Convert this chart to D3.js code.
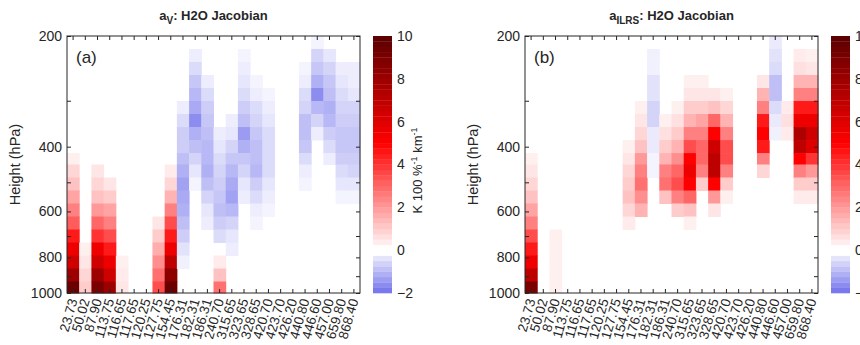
<!DOCTYPE html>
<html>
<head>
<meta charset="utf-8">
<script src="https://cdnjs.cloudflare.com/ajax/libs/d3/7.8.5/d3.min.js"></script>
<style>
  body { margin: 0; background: #fff; }
  svg text { font-family: "Liberation Sans", Arial, Helvetica, sans-serif; fill: #262626; }
</style>
</head>
<body>
<div id="chart"></div>
<script>
// channel frequencies (GHz) used as x categories
const channels = ["23.73","50.02","87.90","113.75","116.65","117.65","120.25","127.75",
  "154.45","176.31","182.31","186.31","240.70","315.65","323.65","328.65",
  "420.70","423.70","426.20","440.80","446.60","457.00","659.80","868.40"];

// pressure level edges (hPa), top to bottom
const pEdges = [200, 216.9, 235.4, 255.3, 277.0, 300.5, 326.0, 353.7, 383.7, 416.3,
  447.2, 485.1, 526.3, 570.9, 619.4, 671.9, 728.9, 790.8, 857.9, 930.7, 1000];

const yTicks = [200, 400, 600, 800, 1000];
const cbarTicks = [-2, 0, 2, 4, 6, 8, 10];

// Jacobian values per channel, one value per layer (top -> bottom)
const aV = [
  [0,0,0,0,0,0,0,0,0,0.3,0.8,1.2,1.8,2.5,3.2,4.5,5.5,6.5,8,9.5],
  [0,0,0,0,0,0,0,0,0,0,0,0,0,0,0,0,0.3,0.5,0.8,1.0],
  [0,0,0,0,0,0,0,0,0,0,0.5,0.8,1.2,2,3,4,5.5,6.5,8,9],
  [0,0,0,0,0,0,0,0,0,0,0,0.5,1,1.8,2.5,3.5,4.5,5.5,6.5,8],
  [0,0,0,0,0,0,0,0,0,0,0,0,0,0,0,0,0,0.3,0.4,0.5],
  [0,0,0,0,0,0,0,0,0,0,0,0,0,0,0,0,0,0,0,0],
  [0,0,0,0,0,0,0,0,0,0,0,0,0,0,0,0,0,0,0,0],
  [0,0,0,0,0,0,0,0,0,0,0,0,0,0,0.5,1,1.6,2.2,2.8,3.5],
  [0,0,0,0,0,0,0,0,0,0,0.4,0.8,1.5,2.5,3.5,4.5,5.5,7,8.5,9.5],
  [0,0,0,0,0,-0.25,-0.5,-0.7,-0.7,-0.9,-1.1,-1.3,-1.2,-1.1,-0.9,-0.7,-0.4,-0.2,0,0],
  [0,-0.25,-0.5,-0.8,-1.0,-1.2,-1.6,-1.1,-0.9,-0.6,-0.35,-0.15,0,0,0,0,0,0,0,0],
  [0,0,0,-0.25,-0.5,-0.7,-0.8,-0.9,-1.0,-1.0,-1.1,-0.9,-0.6,-0.35,-0.25,0,0,0,0,0],
  [0,0,0,0,0,0,0,-0.25,-0.35,-0.5,-0.6,-0.7,-0.8,-0.9,-0.7,-0.5,0,0.4,1.2,2.8],
  [0,0,0,0,0,0,-0.25,-0.35,-0.6,-0.8,-1.0,-1.2,-1.3,-1.0,-0.6,-0.35,-0.25,0,0,0],
  [0,-0.15,-0.25,-0.35,-0.5,-0.7,-0.9,-1.4,-1.1,-0.8,-0.6,-0.35,-0.25,0,0,0,0,0,0,0],
  [0,0,0,-0.15,-0.25,-0.5,-0.6,-0.8,-0.9,-0.9,-1.0,-0.7,-0.5,-0.25,-0.15,0,0,0,0,0],
  [0,0,0,0,-0.15,-0.25,-0.35,-0.5,-0.5,-0.5,-0.5,-0.35,-0.25,-0.15,0,0,0,0,0,0],
  [0,0,0,0,0,0,0,0,0,0,0,0,0,0,0,0,0,0,0,0],
  [0,0,0,0,0,0,0,0,0,0,0,0,0,0,0,0,0,0,0,0],
  [0,0,-0.15,-0.25,-0.5,-0.6,-0.9,-0.9,-0.8,-0.5,-0.25,-0.15,0,0,0,0,0,0,0,0],
  [-0.15,-0.6,-0.8,-1.1,-1.6,-1.0,-0.6,-0.25,0,0,0,0,0,0,0,0,0,0,0,0],
  [0,-0.35,-0.6,-0.8,-0.9,-1.1,-1.0,-0.7,-0.5,-0.25,0,0,0,0,0,0,0,0,0,0],
  [0,0,-0.25,-0.35,-0.5,-0.6,-0.7,-0.8,-0.8,-0.7,-0.5,-0.35,-0.15,0,0,0,0,0,0,0],
  [0,0,-0.25,-0.25,-0.35,-0.6,-0.7,-0.8,-0.8,-0.7,-0.6,-0.35,-0.15,0,0,0,0,0,0,0]
];

const aILRS = [
  [0,0,0,0,0,0,0,0,0,0.3,0.5,0.8,1.2,1.8,2.5,3.5,4.5,5.5,7,9],
  [0,0,0,0,0,0,0,0,0,0,0,0,0,0,0,0,0,0,0,0],
  [0,0,0,0,0,0,0,0,0,0,0,0,0,0,0,0.3,0.3,0.3,0.3,0.3],
  [0,0,0,0,0,0,0,0,0,0,0,0,0,0,0,0,0,0,0,0],
  [0,0,0,0,0,0,0,0,0,0,0,0,0,0,0,0,0,0,0,0],
  [0,0,0,0,0,0,0,0,0,0,0,0,0,0,0,0,0,0,0,0],
  [0,0,0,0,0,0,0,0,0,0,0,0,0,0,0,0,0,0,0,0],
  [0,0,0,0,0,0,0,0,0,0,0,0,0,0,0,0,0,0,0,0],
  [0,0,0,0,0,0,0,0,0.3,0.5,0.8,1.0,1.2,0.8,0.4,0,0,0,0,0],
  [0,0,0,0,0,0.3,0.5,0.8,1.2,2.0,2.5,2.8,2.2,1.5,0,0,0,0,0,0],
  [0,-0.2,-0.2,-0.4,-0.4,-0.6,-0.6,-0.3,-0.3,-0.15,-0.15,0,0,0,0,0,0,0,0,0],
  [0,0,0,0,0,0,0.3,0.6,1.0,1.5,2.5,2.8,1.2,0,0,0,0,0,0,0],
  [0,0,0,0,0,0.3,0.6,1.0,1.5,2.2,3.0,3.5,2.5,1.0,0,0,0,0,0,0],
  [0,0,0,0.3,0.5,1.0,1.5,2.5,3.5,5.0,5.5,5.0,3.0,1.2,0.3,0,0,0,0,0],
  [0,0,0,0.3,0.5,1.0,1.8,2.5,3.0,3.0,2.5,1.0,0,0,0,0,0,0,0,0],
  [0,0,0,0,0.5,1.2,3.0,5.0,6.5,7.0,7.0,5.0,2.0,0.5,0,0,0,0,0,0],
  [0,0,0,0,0.3,0.8,1.5,2.5,3.5,3.5,2.5,1.0,0.3,0,0,0,0,0,0,0],
  [0,0,0,0,0,0,0,0,0,0,0,0,0,0,0,0,0,0,0,0],
  [0,0,0,0,0,0,0,0,0,0,0,0,0,0,0,0,0,0,0,0],
  [0,0,0,0.5,1.5,2.5,4.5,5.0,4.5,2.5,0.8,0,0,0,0,0,0,0,0,0],
  [-0.3,-0.4,-0.5,-0.9,-0.9,-0.5,-0.3,-0.2,0,0,0,0,0,0,0,0,0,0,0,0],
  [0,0,0,0,0,0.4,0.6,0.4,0,0,0,0,0,0,0,0,0,0,0,0],
  [0,0.4,0.6,1.5,2.5,4.5,5.5,7.5,7.0,5.0,2.5,1.0,0.4,0,0,0,0,0,0,0],
  [0,0.3,0.5,1.5,2.5,4.5,5.5,6.5,6.0,4.0,2.0,1.0,0.4,0,0,0,0,0,0,0]
];

const width = 860, height = 345;
const yTop = 36, yBottom = 293, plotW = 293;

const svg = d3.select("#chart").append("svg")
  .attr("width", width)
  .attr("height", height);

const color = d3.scaleLinear()
  .domain([-2, 0, 5, 10])
  .range(["#7070ec", "#ffffff", "#ff0000", "#5a0000"])
  .clamp(true);

const y = d3.scaleLog().domain([200, 1000]).range([yTop, yBottom]);

function drawPanel(data, x0, titleMain, titleSub, letter) {
  const x = d3.scaleBand().domain(channels).range([x0, x0 + plotW]).padding(0);
  const g = svg.append("g");

  // cells
  channels.forEach((ch, i) => {
    g.selectAll(null)
      .data(data[i].map((v, r) => ({ v: v, r: r })).filter(d => d.v !== 0))
      .enter()
      .append("rect")
      .attr("x", x(ch))
      .attr("y", d => y(pEdges[d.r]))
      .attr("width", x.bandwidth() + 0.5)
      .attr("height", d => y(pEdges[d.r + 1]) - y(pEdges[d.r]) + 0.5)
      .attr("fill", d => color(d.v));
  });

  const minor = d3.range(200, 1001, 100);

  // left axis with labels
  const yAxis = d3.axisLeft(y).tickValues(minor).tickSize(-4).tickPadding(5)
    .tickFormat(d => yTicks.includes(d) ? d : "");
  g.append("g").attr("transform", "translate(" + x0 + ",0)").call(yAxis)
    .call(a => a.select(".domain").remove())
    .call(a => a.selectAll("text").attr("font-size", 14).attr("fill", "#262626"));

  // right axis ticks only
  g.append("g").attr("transform", "translate(" + (x0 + plotW) + ",0)")
    .call(d3.axisRight(y).tickValues(minor).tickSize(-4).tickFormat(""))
    .call(a => a.select(".domain").remove());

  // bottom axis with rotated labels
  g.append("g").attr("transform", "translate(0," + yBottom + ")")
    .call(d3.axisBottom(x).tickSize(-4))
    .call(a => a.select(".domain").remove())
    .call(a => a.selectAll("text")
      .attr("font-size", 13.5)
      .attr("fill", "#262626")
      .attr("text-anchor", "end")
      .attr("x", 0).attr("y", 0).attr("dy", "0.35em")
      .attr("transform", "translate(0,6) rotate(-74)"));

  // top axis ticks only
  g.append("g").attr("transform", "translate(0," + yTop + ")")
    .call(d3.axisTop(x).tickSize(-4).tickFormat(""))
    .call(a => a.select(".domain").remove());

  g.selectAll(".tick line").attr("stroke", "#262626");

  // box
  g.append("rect")
    .attr("x", x0).attr("y", yTop)
    .attr("width", plotW).attr("height", yBottom - yTop)
    .attr("fill", "none").attr("stroke", "#262626").attr("stroke-width", 1);

  // panel letter
  g.append("text").attr("x", x0 + 9).attr("y", yTop + 27)
    .attr("font-size", 17).text(letter);

  // title
  const t = g.append("text").attr("x", x0 + plotW / 2).attr("y", 20)
    .attr("text-anchor", "middle").attr("font-size", 13).attr("font-weight", "bold");
  t.append("tspan").text(titleMain);
  t.append("tspan").attr("font-size", 10).attr("dy", 4).text(titleSub);
  t.append("tspan").attr("dy", -4).text(": H2O Jacobian");

  // y label
  g.append("text")
    .attr("transform", "translate(" + (x0 - 47) + "," + ((yTop + yBottom) / 2) + ") rotate(-90)")
    .attr("text-anchor", "middle").attr("font-size", 14.5).text("Height (hPa)");

  // colorbar
  const cx = x0 + plotW + 13, cw = 19;
  const yc = d3.scaleLinear().domain([-2, 10]).range([yBottom, yTop]);
  const step = 0.25;
  const bins = d3.range(-2, 10, step);
  g.selectAll(null).data(bins).enter().append("rect")
    .attr("x", cx).attr("y", d => yc(d + step))
    .attr("width", cw).attr("height", d => yc(d) - yc(d + step) + 0.3)
    .attr("fill", d => color(Math.abs(d + step / 2) < 0.2 ? 0 : d + step / 2));

  g.append("g").attr("transform", "translate(" + (cx + cw) + ",0)")
    .call(d3.axisRight(yc).tickValues(cbarTicks).tickSize(0).tickPadding(5))
    .call(a => a.select(".domain").remove())
    .call(a => a.selectAll("text").attr("font-size", 14).attr("fill", "#262626"));

  if (letter === "(a)") {
    const cl = g.append("text")
      .attr("transform", "translate(" + (cx + cw + 30) + "," + ((yTop + yBottom) / 2 + 6) + ") rotate(-90)")
      .attr("text-anchor", "middle").attr("font-size", 13);
    cl.append("tspan").text("K 100 %");
    cl.append("tspan").attr("font-size", 9).attr("dy", -5).text("-1");
    cl.append("tspan").attr("dy", 5).text(" km");
    cl.append("tspan").attr("font-size", 9).attr("dy", -5).text("-1");
  }
}

drawPanel(aV, 67, "a", "V", "(a)");
drawPanel(aILRS, 525, "a", "ILRS", "(b)");
</script>
</body>
</html>
